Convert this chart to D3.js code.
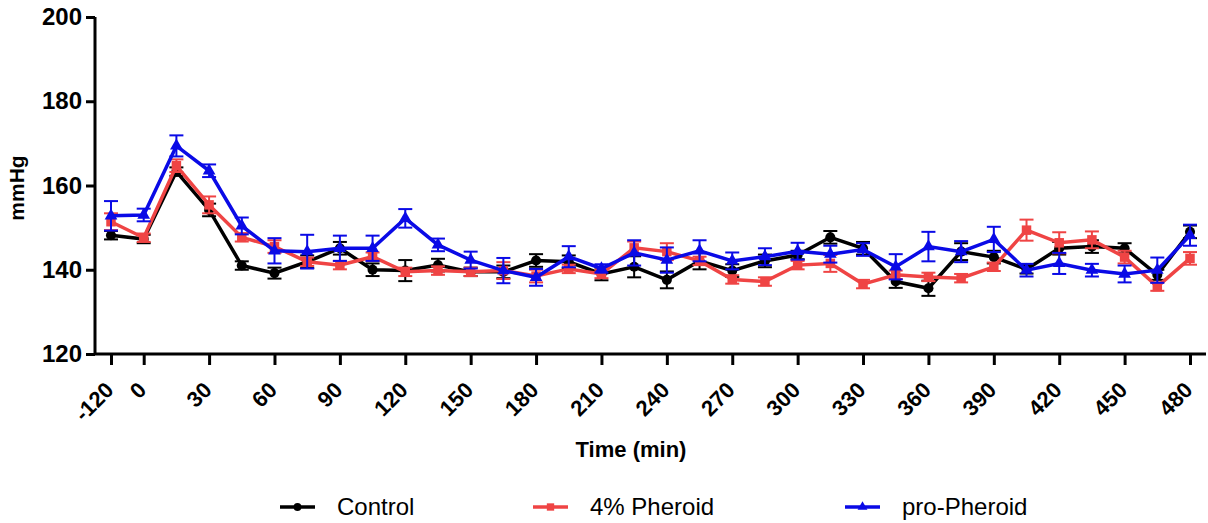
<!DOCTYPE html>
<html>
<head>
<meta charset="utf-8">
<script src="https://cdn.jsdelivr.net/npm/d3@7"></script>
<style>
  body { margin: 0; background: #fff; }
  svg { display: block; font-family: "Liberation Sans", Arial, sans-serif; }
</style>
</head>
<body>
<div id="chart"></div>
<script>
const times = [-120, 0, 15, 30, 45, 60, 75, 90, 105, 120, 135, 150, 165, 180, 195, 210, 225, 240,
  255, 270, 285, 300, 315, 330, 345, 360, 375, 390, 405, 420, 435, 450, 465, 480];
const tickLabels = [-120, 0, 30, 60, 90, 120, 150, 180, 210, 240, 270, 300, 330, 360, 390, 420, 450, 480];
const yTicks = [120, 140, 160, 180, 200];

const controlMean = [148.2, 147.3, 163.3, 154.2, 141.0, 139.2, 141.9, 145.1, 140.0, 139.8, 141.1, 139.5,
  139.5, 142.2, 141.9, 139.0, 140.7, 137.6, 142.1, 139.8, 142.1, 143.5, 147.7, 145.1, 137.2, 135.6,
  144.3, 143.0, 140.1, 145.1, 145.5, 145.1, 138.8, 149.0];
const controlErr = [1, 1, 1, 1.5, 1, 1.3, 1.5, 1.5, 1.5, 2.5, 1.5, 1, 1.5, 1.5, 1.5, 1.5, 2.5, 2,
  2, 1.5, 1.5, 1, 1.5, 1.5, 1.5, 1.8, 2, 1.5, 1, 1.5, 1.5, 1.2, 1.2, 1.5];

const pheroidMean = [151.4, 147.6, 164.7, 155.4, 147.7, 145.5, 141.9, 141.1, 143.1, 139.5, 139.8, 139.5,
  139.8, 138.5, 140.2, 139.0, 145.2, 144.3, 142.1, 137.7, 137.2, 141.1, 141.5, 136.6, 138.8, 138.3,
  138.0, 140.7, 149.4, 146.4, 147.1, 143.0, 136.0, 142.7];
const pheroidErr = [2, 1, 1.5, 2, 1, 1.5, 1, 1, 1, 1, 1, 1, 2, 1.5, 1, 1, 1.5, 2,
  1, 1, 1, 1, 2, 1, 1, 1, 1, 1, 2.5, 2.5, 2, 1.5, 1, 1.5];

const proMean = [152.8, 153.0, 169.4, 163.5, 150.4, 144.5, 144.3, 145.1, 145.1, 152.2, 145.9, 142.3,
  139.8, 138.2, 143.1, 140.3, 144.0, 142.3, 144.5, 142.1, 143.1, 144.4, 143.7, 144.8, 140.7, 145.5,
  144.3, 147.2, 139.9, 141.5, 139.9, 139.0, 139.9, 148.2];
const proErr = [3.5, 1.5, 2.5, 1.5, 2, 3, 4, 3, 3, 2.2, 1.5, 2, 3, 2, 2.5, 1, 3, 3,
  2.5, 2, 2, 2, 2, 1.5, 3, 3.5, 2.5, 3, 1.5, 2.5, 1.5, 2, 3, 2.5];

const series = [
  { name: "Control", mean: controlMean, err: controlErr, color: "#000000", symbol: d3.symbolCircle, size: 80 },
  { name: "4% Pheroid", mean: pheroidMean, err: pheroidErr, color: "#ef4444", symbol: d3.symbolSquare, size: 90 },
  { name: "pro-Pheroid", mean: proMean, err: proErr, color: "#0a0ae6", symbol: d3.symbolTriangle, size: 70 }
];

const W = 1208, H = 523;
const svg = d3.select("#chart").append("svg").attr("width", W).attr("height", H);

const x = d3.scalePoint().domain(times).range([111, 1190]);
const y = d3.scaleLinear().domain([120, 200]).range([354, 17]);

// axes
svg.append("g")
  .attr("transform", "translate(95,0)")
  .call(d3.axisLeft(y).tickValues(yTicks).tickSize(9).tickPadding(4))
  .call(g => g.select(".domain").attr("stroke-width", 3).attr("d", "M0,17V354"))
  .call(g => g.selectAll(".tick line").attr("stroke-width", 3))
  .call(g => g.selectAll(".tick text").attr("font-size", 24).attr("font-weight", "bold").attr("fill", "#000"));

svg.append("g")
  .attr("transform", "translate(0,354)")
  .call(d3.axisBottom(x).tickValues(tickLabels).tickSize(11).tickPadding(6))
  .call(g => g.select(".domain").attr("stroke-width", 3).attr("d", "M95,0H1206"))
  .call(g => g.selectAll(".tick line").attr("stroke-width", 3))
  .call(g => g.selectAll(".tick text")
    .attr("font-size", 22).attr("font-weight", "bold").attr("fill", "#000")
    .attr("x", 0).attr("y", 0)
    .attr("text-anchor", "end").attr("dy", "0.35em")
    .attr("transform", "translate(-2,32) rotate(-45)"));

svg.append("text")
  .attr("transform", "translate(24,188) rotate(-90)")
  .attr("text-anchor", "middle").attr("font-size", 21).attr("font-weight", "bold")
  .text("mmHg");

svg.append("text")
  .attr("x", 631).attr("y", 457)
  .attr("text-anchor", "middle").attr("font-size", 22).attr("font-weight", "bold")
  .text("Time (min)");

// series
const line = d3.line().x(d => x(d.t)).y(d => y(d.v));
series.forEach(s => {
  const pts = times.map((t, i) => ({ t, v: s.mean[i], e: s.err[i] }));
  const g = svg.append("g");
  const eb = g.selectAll(".eb").data(pts).enter().append("g").attr("stroke", s.color).attr("stroke-width", 2);
  eb.append("line").attr("x1", d => x(d.t)).attr("x2", d => x(d.t))
    .attr("y1", d => y(d.v - d.e)).attr("y2", d => y(d.v + d.e));
  eb.append("line").attr("x1", d => x(d.t) - 7).attr("x2", d => x(d.t) + 7)
    .attr("y1", d => y(d.v + d.e)).attr("y2", d => y(d.v + d.e));
  eb.append("line").attr("x1", d => x(d.t) - 7).attr("x2", d => x(d.t) + 7)
    .attr("y1", d => y(d.v - d.e)).attr("y2", d => y(d.v - d.e));
  g.append("path").datum(pts).attr("d", line).attr("fill", "none")
    .attr("stroke", s.color).attr("stroke-width", 3.5);
  g.selectAll(".pt").data(pts).enter().append("path")
    .attr("d", d3.symbol().type(s.symbol).size(s.size))
    .attr("transform", d => `translate(${x(d.t)},${y(d.v)})`)
    .attr("fill", s.color);
});

// legend
const legendX = [280, 533, 845];
series.forEach((s, i) => {
  const lg = svg.append("g").attr("transform", `translate(${legendX[i]},507)`);
  lg.append("line").attr("x1", 0).attr("x2", 35).attr("stroke", s.color).attr("stroke-width", 3.5);
  lg.append("path").attr("d", d3.symbol().type(s.symbol).size(s.size * 0.6))
    .attr("transform", "translate(17.5,0)").attr("fill", s.color);
  lg.append("text").attr("x", 57).attr("dy", "0.35em").attr("font-size", 24).text(s.name);
});
</script>
</body>
</html>
